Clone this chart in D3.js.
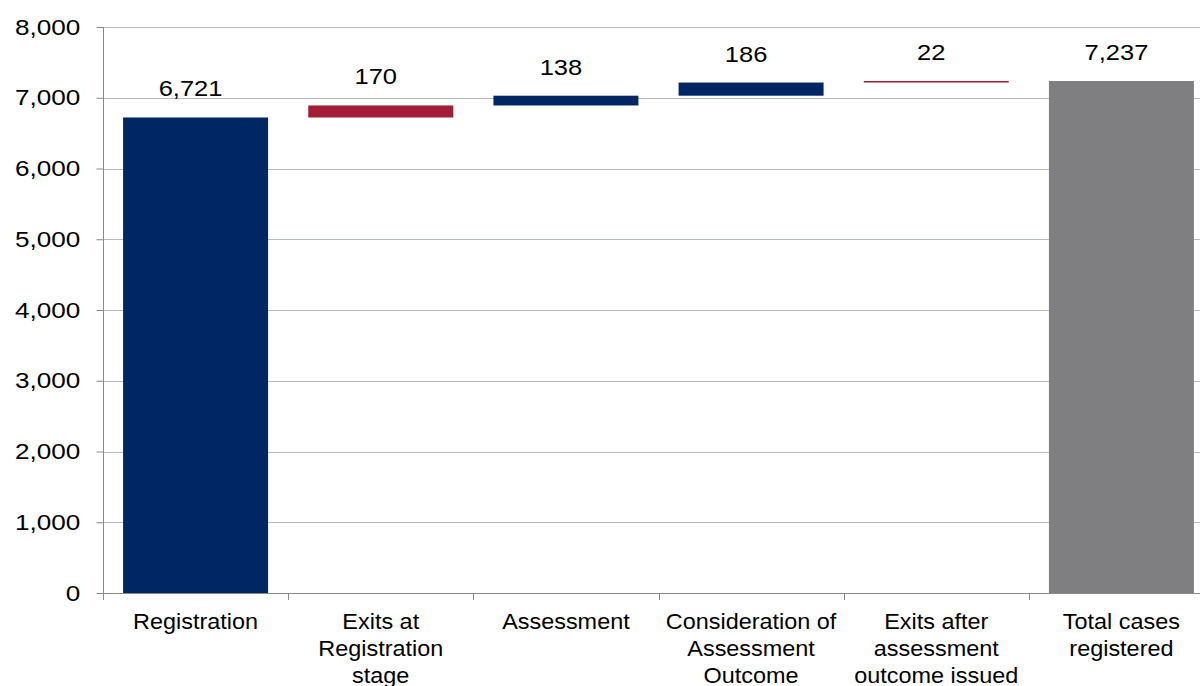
<!DOCTYPE html>
<html>
<head>
<meta charset="utf-8">
<script src="https://cdn.jsdelivr.net/npm/d3@7"></script>
<style>
  html, body { margin: 0; padding: 0; background: #fff; }
  svg { display: block; }
  text { font-family: "Liberation Sans", Arial, sans-serif; fill: #000; }
</style>
</head>
<body>
<svg id="chart" width="1200" height="686"></svg>
<script>
// ---- data ----
const categories = [
  "Registration",
  "Exits at Registration stage",
  "Assessment",
  "Consideration of Assessment Outcome",
  "Exits after assessment outcome issued",
  "Total cases registered"
];
const categoryLines = [
  ["Registration"],
  ["Exits at", "Registration", "stage"],
  ["Assessment"],
  ["Consideration of", "Assessment", "Outcome"],
  ["Exits after", "assessment", "outcome issued"],
  ["Total cases", "registered"]
];
const values = [6721, 170, 138, 186, 22, 7237];
const kinds = ["start", "exit", "step", "step", "exit", "total"];
const yTicks = [0, 1000, 2000, 3000, 4000, 5000, 6000, 7000, 8000];

// ---- build waterfall ----
let running = 0;
const bars = categories.map((c, i) => {
  let lo, hi;
  if (kinds[i] === "start" || kinds[i] === "total") { lo = 0; hi = values[i]; running = values[i]; }
  else { lo = running; hi = running + values[i]; running = hi; }
  return { cat: c, lines: categoryLines[i], value: values[i], kind: kinds[i], lo, hi };
});

const colors = { start: "#002664", step: "#002664", exit: "#a21f36", total: "#7f7f81" };

const svg = d3.select("#chart");
const mLeft = 103, mRight = 1214, mTop = 27, mBottom = 593;
const numStretch = 1.16, wordStretch = 1.09;

const x = d3.scaleBand().domain(categories).range([mLeft, mRight])
  .paddingInner(0.217).paddingOuter(0.1085);
const y = d3.scaleLinear().domain([0, 8000]).range([mBottom, mTop]);

// gridlines
svg.append("g").selectAll("line").data(yTicks.filter(d => d > 0)).join("line")
  .attr("x1", mLeft).attr("x2", 1200)
  .attr("y1", d => Math.round(y(d)) + 0.5).attr("y2", d => Math.round(y(d)) + 0.5)
  .attr("stroke", "#b6bacf").attr("stroke-width", 1);

// bars
svg.append("g").selectAll("rect").data(bars).join("rect")
  .attr("x", d => x(d.cat))
  .attr("width", x.bandwidth())
  .attr("y", d => y(d.hi))
  .attr("height", d => y(d.lo) - y(d.hi))
  .attr("fill", d => colors[d.kind]);

// value labels
svg.append("g").selectAll("text").data(bars).join("text")
  .attr("transform", d => `translate(${x(d.cat) + x.bandwidth() / 2 - 5},${y(d.hi) - 21}) scale(${numStretch},1)`)
  .attr("text-anchor", "middle")
  .attr("font-size", 22)
  .text(d => d3.format(",")(d.value));

// y axis
const yAxis = d3.axisLeft(y).tickValues(yTicks).tickFormat(d3.format(",")).tickSize(7).tickPadding(13);
const gy = svg.append("g").attr("transform", `translate(${mLeft + 0.5},0)`).call(yAxis);
gy.select(".domain").attr("stroke", "#8a8a8a").attr("d", `M0,${mTop}V${mBottom}`);
gy.selectAll(".tick line").attr("stroke", "#8a8a8a");
gy.selectAll(".tick text").attr("font-size", 22.5).attr("font-family", "Liberation Sans, Arial, sans-serif")
  .attr("fill", "#000").attr("transform", `scale(${numStretch},1)`);

// x axis
const xTickPos = d3.range(categories.length + 1).map(i => mLeft + i * x.step());
const gx = svg.append("g");
gx.append("line").attr("x1", mLeft).attr("x2", 1200).attr("y1", mBottom + 0.5).attr("y2", mBottom + 0.5)
  .attr("stroke", "#8a8a8a");
gx.selectAll("line.tk").data(xTickPos).join("line").attr("class", "tk")
  .attr("x1", d => Math.round(d) + 0.5).attr("x2", d => Math.round(d) + 0.5)
  .attr("y1", mBottom).attr("y2", mBottom + 7).attr("stroke", "#8a8a8a");

// category labels
const lab = svg.append("g").selectAll("text").data(bars).join("text")
  .attr("transform", d => `translate(${x(d.cat) + x.bandwidth() / 2},0) scale(${wordStretch},1)`)
  .attr("text-anchor", "middle")
  .attr("font-size", 21.5);
lab.selectAll("tspan").data(d => d.lines).join("tspan")
  .attr("x", 0)
  .attr("y", (d, i) => 629 + i * 27)
  .text(d => d);
</script>
</body>
</html>
